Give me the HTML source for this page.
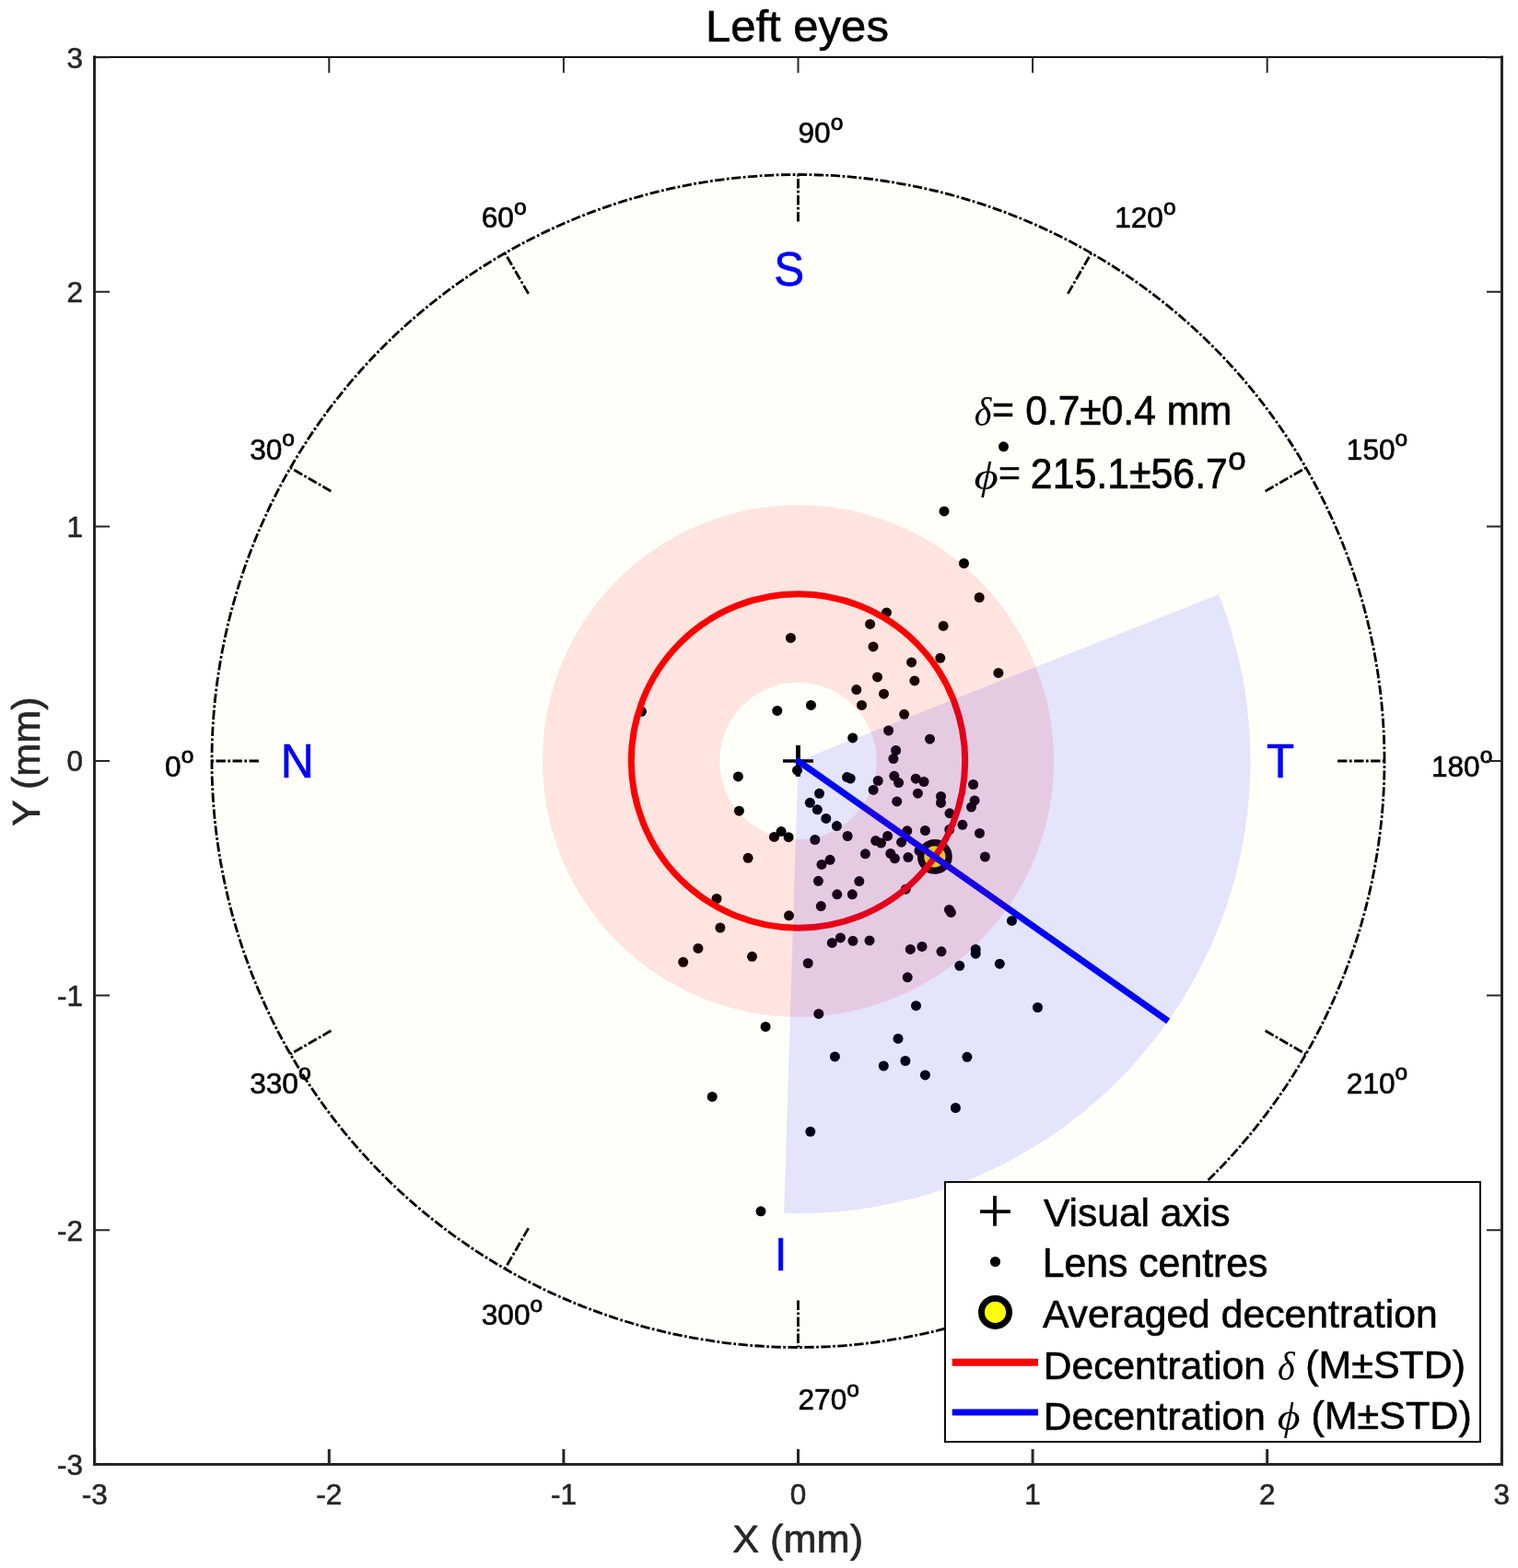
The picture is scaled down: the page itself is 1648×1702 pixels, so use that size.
<!DOCTYPE html>
<html><head><meta charset="utf-8"><title>Left eyes</title>
<style>html,body{margin:0;padding:0;background:#fff;}svg{display:block;}text{font-family:"Liberation Sans",Arial,sans-serif;}.g{font-family:"Liberation Serif","Times New Roman",serif;font-style:italic;}</style>
</head><body>
<svg width="1648" height="1702" viewBox="0 0 1648 1702">
<rect x="0" y="0" width="1648" height="1702" fill="#ffffff"/>
<circle cx="866.5" cy="826" r="636.5" fill="#fffffa"/>
<g fill="#000">
<circle cx="1089.5" cy="484.8" r="5.5"/>
<circle cx="1025" cy="554.9" r="5.5"/>
<circle cx="1046.5" cy="611.5" r="5.5"/>
<circle cx="1063.2" cy="648.5" r="5.5"/>
<circle cx="962.5" cy="664.9" r="5.5"/>
<circle cx="944.6" cy="677.4" r="5.5"/>
<circle cx="1024.1" cy="679.4" r="5.5"/>
<circle cx="858.4" cy="692.4" r="5.5"/>
<circle cx="948" cy="701.9" r="5.5"/>
<circle cx="1020.8" cy="714.3" r="5.5"/>
<circle cx="989.6" cy="718.9" r="5.5"/>
<circle cx="1083.9" cy="730.4" r="5.5"/>
<circle cx="952.5" cy="734.9" r="5.5"/>
<circle cx="992.9" cy="738.9" r="5.5"/>
<circle cx="929.8" cy="748.6" r="5.5"/>
<circle cx="959.5" cy="753.2" r="5.5"/>
<circle cx="880.4" cy="765.4" r="5.5"/>
<circle cx="935.5" cy="765.4" r="5.5"/>
<circle cx="843.8" cy="771.4" r="5.5"/>
<circle cx="696.5" cy="772.3" r="5.5"/>
<circle cx="981.6" cy="775.3" r="5.5"/>
<circle cx="964.6" cy="793" r="5.5"/>
<circle cx="925.7" cy="800.9" r="5.5"/>
<circle cx="1009.5" cy="802.2" r="5.5"/>
<circle cx="972.6" cy="814.5" r="5.5"/>
<circle cx="969.9" cy="823.6" r="5.5"/>
<circle cx="865.5" cy="836.2" r="5.5"/>
<circle cx="801.4" cy="842.9" r="5.5"/>
<circle cx="919.6" cy="843.6" r="5.5"/>
<circle cx="923.2" cy="845" r="5.5"/>
<circle cx="953.2" cy="847.5" r="5.5"/>
<circle cx="970.8" cy="842.3" r="5.5"/>
<circle cx="975.6" cy="849.6" r="5.5"/>
<circle cx="994.2" cy="845.2" r="5.5"/>
<circle cx="1003" cy="848.5" r="5.5"/>
<circle cx="1056.6" cy="851.5" r="5.5"/>
<circle cx="948.1" cy="857.4" r="5.5"/>
<circle cx="889.5" cy="861.3" r="5.5"/>
<circle cx="996.4" cy="861.2" r="5.5"/>
<circle cx="1021.5" cy="864.5" r="5.5"/>
<circle cx="1021.5" cy="871.4" r="5.5"/>
<circle cx="1058.1" cy="868.9" r="5.5"/>
<circle cx="1054.5" cy="876.1" r="5.5"/>
<circle cx="973.7" cy="869.9" r="5.5"/>
<circle cx="879.3" cy="871.3" r="5.5"/>
<circle cx="887.3" cy="878.8" r="5.5"/>
<circle cx="802.4" cy="880.2" r="5.5"/>
<circle cx="1031" cy="882.8" r="5.5"/>
<circle cx="896.8" cy="888.4" r="5.5"/>
<circle cx="1044.9" cy="895.3" r="5.5"/>
<circle cx="908.4" cy="896.6" r="5.5"/>
<circle cx="1004.4" cy="901.5" r="5.5"/>
<circle cx="984.8" cy="901.8" r="5.5"/>
<circle cx="1030.8" cy="900.5" r="5.5"/>
<circle cx="848.1" cy="902.6" r="5.5"/>
<circle cx="1063.5" cy="904.4" r="5.5"/>
<circle cx="920.1" cy="907.5" r="5.5"/>
<circle cx="963.6" cy="907.4" r="5.5"/>
<circle cx="840.5" cy="908.4" r="5.5"/>
<circle cx="856.1" cy="908.7" r="5.5"/>
<circle cx="884.8" cy="911.5" r="5.5"/>
<circle cx="950.7" cy="912.6" r="5.5"/>
<circle cx="956.5" cy="915.1" r="5.5"/>
<circle cx="978.6" cy="914.2" r="5.5"/>
<circle cx="939.4" cy="926.8" r="5.5"/>
<circle cx="966.8" cy="926.5" r="5.5"/>
<circle cx="971.4" cy="931.8" r="5.5"/>
<circle cx="985.9" cy="930.6" r="5.5"/>
<circle cx="1069.4" cy="930" r="5.5"/>
<circle cx="812.1" cy="931.3" r="5.5"/>
<circle cx="901.1" cy="933.3" r="5.5"/>
<circle cx="892" cy="938.4" r="5.5"/>
<circle cx="888.4" cy="956.3" r="5.5"/>
<circle cx="932.8" cy="956.6" r="5.5"/>
<circle cx="983.3" cy="965.2" r="5.5"/>
<circle cx="908.8" cy="970.8" r="5.5"/>
<circle cx="925.3" cy="970.8" r="5.5"/>
<circle cx="778" cy="975.5" r="5.5"/>
<circle cx="891.3" cy="983.6" r="5.5"/>
<circle cx="1030.5" cy="987.5" r="5.5"/>
<circle cx="1032.4" cy="990.4" r="5.5"/>
<circle cx="856.5" cy="993.8" r="5.5"/>
<circle cx="1098.5" cy="999.4" r="5.5"/>
<circle cx="781.9" cy="1007" r="5.5"/>
<circle cx="912.4" cy="1017.9" r="5.5"/>
<circle cx="903.3" cy="1023.4" r="5.5"/>
<circle cx="925.9" cy="1021.3" r="5.5"/>
<circle cx="944" cy="1020.9" r="5.5"/>
<circle cx="988.3" cy="1030.4" r="5.5"/>
<circle cx="1001" cy="1027.4" r="5.5"/>
<circle cx="1022" cy="1032.8" r="5.5"/>
<circle cx="1059.2" cy="1030.4" r="5.5"/>
<circle cx="1059.2" cy="1035.2" r="5.5"/>
<circle cx="757.9" cy="1029.4" r="5.5"/>
<circle cx="816.5" cy="1038.3" r="5.5"/>
<circle cx="741.7" cy="1044.3" r="5.5"/>
<circle cx="877.2" cy="1045.5" r="5.5"/>
<circle cx="1041.8" cy="1048.3" r="5.5"/>
<circle cx="1085.3" cy="1046.2" r="5.5"/>
<circle cx="985.2" cy="1060.8" r="5.5"/>
<circle cx="994.5" cy="1091.7" r="5.5"/>
<circle cx="1126.5" cy="1093.5" r="5.5"/>
<circle cx="888.8" cy="1100.4" r="5.5"/>
<circle cx="831.1" cy="1114.4" r="5.5"/>
<circle cx="975" cy="1127.4" r="5.5"/>
<circle cx="906.4" cy="1146.9" r="5.5"/>
<circle cx="1049.9" cy="1147.3" r="5.5"/>
<circle cx="982.9" cy="1151.5" r="5.5"/>
<circle cx="959.3" cy="1157" r="5.5"/>
<circle cx="998" cy="923.5" r="5.5"/>
<circle cx="1004.4" cy="1166.9" r="5.5"/>
<circle cx="773.2" cy="1190.4" r="5.5"/>
<circle cx="1037.4" cy="1202.5" r="5.5"/>
<circle cx="879.8" cy="1228.3" r="5.5"/>
<circle cx="826" cy="1314.8" r="5.5"/>
</g>
<circle cx="1014.85" cy="929.9" r="15.25" fill="#ffff00" stroke="#000" stroke-width="7.3"/>
<circle cx="866.5" cy="826" r="181.2" fill="none" stroke="#ff0000" stroke-width="7"/>
<path d="M850 826H883" stroke="#000" stroke-width="3.6" fill="none"/>
<path d="M866.5 809V843" stroke="#000" stroke-width="4.8" fill="none"/>
<line x1="864.45" y1="824.56" x2="1268.21" y2="1108.33" stroke="#0000ff" stroke-width="7"/>
<path fill="#ff0000" fill-opacity="0.105" fill-rule="evenodd" d="M588.9 826A277.6 277.6 0 1 0 1144.1 826A277.6 277.6 0 1 0 588.9 826ZM781.3 826A85.2 85.2 0 1 0 951.7 826A85.2 85.2 0 1 0 781.3 826Z"/>
<path fill="#0000ff" fill-opacity="0.105" d="M866.5 826L1323.02 645.25A491 491 0 0 1 851.08 1316.76Z"/>
<path d="M1503 826A636.5 636.5 0 0 0 230 826A636.5 636.5 0 0 0 1503 826" fill="none" stroke="#000" stroke-width="2.8" stroke-dasharray="10.4 2.4 2.8 2.4"/>
<line x1="280.92" y1="826" x2="230" y2="826" stroke="#000" stroke-width="2.8" stroke-dasharray="10.4 2.4 2.8 2.4"/>
<line x1="359.37" y1="533.21" x2="315.27" y2="507.75" stroke="#000" stroke-width="2.8" stroke-dasharray="10.4 2.4 2.8 2.4"/>
<line x1="573.71" y1="318.87" x2="548.25" y2="274.77" stroke="#000" stroke-width="2.8" stroke-dasharray="10.4 2.4 2.8 2.4"/>
<line x1="866.5" y1="240.42" x2="866.5" y2="189.5" stroke="#000" stroke-width="2.8" stroke-dasharray="10.4 2.4 2.8 2.4"/>
<line x1="1159.29" y1="318.87" x2="1184.75" y2="274.77" stroke="#000" stroke-width="2.8" stroke-dasharray="10.4 2.4 2.8 2.4"/>
<line x1="1373.63" y1="533.21" x2="1417.73" y2="507.75" stroke="#000" stroke-width="2.8" stroke-dasharray="10.4 2.4 2.8 2.4"/>
<line x1="1452.08" y1="826" x2="1503" y2="826" stroke="#000" stroke-width="2.8" stroke-dasharray="10.4 2.4 2.8 2.4"/>
<line x1="1373.63" y1="1118.79" x2="1417.73" y2="1144.25" stroke="#000" stroke-width="2.8" stroke-dasharray="10.4 2.4 2.8 2.4"/>
<line x1="1159.29" y1="1333.13" x2="1184.75" y2="1377.23" stroke="#000" stroke-width="2.8" stroke-dasharray="10.4 2.4 2.8 2.4"/>
<line x1="866.5" y1="1411.58" x2="866.5" y2="1462.5" stroke="#000" stroke-width="2.8" stroke-dasharray="10.4 2.4 2.8 2.4"/>
<line x1="573.71" y1="1333.13" x2="548.25" y2="1377.23" stroke="#000" stroke-width="2.8" stroke-dasharray="10.4 2.4 2.8 2.4"/>
<line x1="359.37" y1="1118.79" x2="315.27" y2="1144.25" stroke="#000" stroke-width="2.8" stroke-dasharray="10.4 2.4 2.8 2.4"/>
<text x="179.08" y="842.8" font-size="31.6" fill="#000" stroke="#000" stroke-width="0.6">0<tspan font-size="24.5" dy="-14.6" stroke-width="0.8">o</tspan></text>
<text x="271.18" y="499.09" font-size="31.6" fill="#000" stroke="#000" stroke-width="0.6">30<tspan font-size="24.5" dy="-14.6" stroke-width="0.8">o</tspan></text>
<text x="522.79" y="247.48" font-size="31.6" fill="#000" stroke="#000" stroke-width="0.6">60<tspan font-size="24.5" dy="-14.6" stroke-width="0.8">o</tspan></text>
<text x="866.5" y="155.38" font-size="31.6" fill="#000" stroke="#000" stroke-width="0.6">90<tspan font-size="24.5" dy="-14.6" stroke-width="0.8">o</tspan></text>
<text x="1210.21" y="247.48" font-size="31.6" fill="#000" stroke="#000" stroke-width="0.6">120<tspan font-size="24.5" dy="-14.6" stroke-width="0.8">o</tspan></text>
<text x="1461.82" y="499.09" font-size="31.6" fill="#000" stroke="#000" stroke-width="0.6">150<tspan font-size="24.5" dy="-14.6" stroke-width="0.8">o</tspan></text>
<text x="1553.92" y="842.8" font-size="31.6" fill="#000" stroke="#000" stroke-width="0.6">180<tspan font-size="24.5" dy="-14.6" stroke-width="0.8">o</tspan></text>
<text x="1461.82" y="1186.51" font-size="31.6" fill="#000" stroke="#000" stroke-width="0.6">210<tspan font-size="24.5" dy="-14.6" stroke-width="0.8">o</tspan></text>
<text x="866.5" y="1530.22" font-size="31.6" fill="#000" stroke="#000" stroke-width="0.6">270<tspan font-size="24.5" dy="-14.6" stroke-width="0.8">o</tspan></text>
<text x="522.79" y="1438.12" font-size="31.6" fill="#000" stroke="#000" stroke-width="0.6">300<tspan font-size="24.5" dy="-14.6" stroke-width="0.8">o</tspan></text>
<text x="271.18" y="1186.51" font-size="31.6" fill="#000" stroke="#000" stroke-width="0.6">330<tspan font-size="24.5" dy="-14.6" stroke-width="0.8">o</tspan></text>
<text transform="matrix(1.0420 0 0 1.0636 304.80 844.00)" font-size="48" fill="#0000ff" stroke="#0000ff" stroke-width="0.6">N</text>
<text transform="matrix(1.0264 0 0 1.0756 840.21 310.00)" font-size="48" fill="#0000ff" stroke="#0000ff" stroke-width="0.6">S</text>
<text transform="matrix(1.0287 0 0 1.0636 1374.97 844.00)" font-size="48" fill="#0000ff" stroke="#0000ff" stroke-width="0.6">T</text>
<text transform="matrix(1.0000 0 0 1.0545 841.00 1378.80)" font-size="48" fill="#0000ff" stroke="#0000ff" stroke-width="0.6">I</text>
<text transform="matrix(0.9573 0 0 1.0767 1057.84 462.20)" font-size="42" class="g" fill="#000" stroke="#000" stroke-width="0">&#948;</text>
<text transform="matrix(0.9781 0 0 0.9929 1077.04 458.85)" font-size="42" fill="#000" stroke="#000" stroke-width="0.6">=</text>
<text transform="matrix(1.0136 0 0 1.0621 1113.13 460.70)" font-size="42" fill="#000" stroke="#000" stroke-width="0.6">0.7&#177;0.4 mm</text>
<text transform="matrix(1.2098 0 0 1.0205 1057.59 530.52)" font-size="42" class="g" fill="#000" stroke="#000" stroke-width="0">&#981;</text>
<text transform="matrix(0.9781 0 0 0.9214 1084.04 527.45)" font-size="42" fill="#000" stroke="#000" stroke-width="0.6">=</text>
<text transform="matrix(1.0199 0 0 1.0793 1118.86 530.20)" font-size="42" fill="#000" stroke="#000" stroke-width="0.6">215.1&#177;56.7</text>
<text transform="matrix(1.0966 0 0 1.1176 1333.20 509.90)" font-size="32" fill="#000" stroke="#000" stroke-width="0.6">o</text>
<path d="M102.5 60.5V1591M1630.5 60.5V1591M101 1589.5H1632" stroke="#262626" stroke-width="3" fill="none"/>
<path d="M101 62H1632" stroke="#141414" stroke-width="2" fill="none"/>
<path d="M102.7 1588V1573M357.3 1588V1573M611.9 1588V1573M866.5 1588V1573M1121.1 1588V1573M1375.7 1588V1573M1630.3 1588V1573" stroke="#262626" stroke-width="3" fill="none"/>
<path d="M102.7 63V79M104 1589.8H119M1629 1589.8H1614M357.3 63V79M104 1335.2H119M1629 1335.2H1614M611.9 63V79M104 1080.6H119M1629 1080.6H1614M866.5 63V79M104 826H119M1629 826H1614M1121.1 63V79M104 571.4H119M1629 571.4H1614M1375.7 63V79M104 316.8H119M1629 316.8H1614M1630.3 63V79M104 62.2H119M1629 62.2H1614" stroke="#262626" stroke-width="2" fill="none"/>
<g font-size="31.5" fill="#262626" stroke="#262626" stroke-width="0.6">
<text x="102.7" y="1632.5" text-anchor="middle">-3</text>
<text x="90" y="1601.1" text-anchor="end">-3</text>
<text x="357.3" y="1632.5" text-anchor="middle">-2</text>
<text x="90" y="1346.5" text-anchor="end">-2</text>
<text x="611.9" y="1632.5" text-anchor="middle">-1</text>
<text x="90" y="1091.9" text-anchor="end">-1</text>
<text x="866.5" y="1632.5" text-anchor="middle">0</text>
<text x="90" y="837.3" text-anchor="end">0</text>
<text x="1121.1" y="1632.5" text-anchor="middle">1</text>
<text x="90" y="582.7" text-anchor="end">1</text>
<text x="1375.7" y="1632.5" text-anchor="middle">2</text>
<text x="90" y="328.1" text-anchor="end">2</text>
<text x="1630.3" y="1632.5" text-anchor="middle">3</text>
<text x="90" y="73.5" text-anchor="end">3</text>
</g>
<text transform="matrix(1.0315 0 0 0.9900 795.17 1684.79)" font-size="42" fill="#262626" stroke="#262626" stroke-width="0.6">X (mm)</text>
<text transform="rotate(-90) matrix(1.0275 0 0 1.0000 -897.03 43.00)" font-size="42" fill="#262626" stroke="#262626" stroke-width="0.6">Y (mm)</text>
<text transform="matrix(1.0214 0 0 1.0044 765.98 44.86)" font-size="48" fill="#000" stroke="#000" stroke-width="0.6">Left eyes</text>
<rect x="1026" y="1283" width="581" height="282" fill="#ffffff" stroke="#0c0c0c" stroke-width="2"/>
<path d="M1064.1 1315H1096.9M1080 1298V1330.7" stroke="#000" stroke-width="3.75" fill="none"/>
<circle cx="1080.5" cy="1369.5" r="5.55" fill="#000"/>
<circle cx="1080.5" cy="1424.4" r="15.05" fill="#ffff00" stroke="#000" stroke-width="6.9"/>
<line x1="1033.7" y1="1478.8" x2="1127" y2="1478.8" stroke="#ff0000" stroke-width="8"/>
<line x1="1033.7" y1="1533" x2="1127" y2="1533" stroke="#0000ff" stroke-width="7"/>
<text transform="matrix(1.0129 0 0 1.0000 1132.90 1331.00)" font-size="42" fill="#000" stroke="#000" stroke-width="0.6">Visual axis</text>
<text transform="matrix(1.0182 0 0 1.0690 1131.65 1386.00)" font-size="42" fill="#000" stroke="#000" stroke-width="0.6">Lens centres</text>
<text transform="matrix(1.0166 0 0 1.0166 1131.90 1441.32)" font-size="42" fill="#000" stroke="#000" stroke-width="0.6">Averaged decentration</text>
<text transform="matrix(1.0126 0 0 1.0161 1132.86 1496.50)" font-size="42" fill="#000" stroke="#000" stroke-width="0.6">Decentration</text>
<text transform="matrix(0.9573 0 0 1.0700 1386.94 1498.00)" font-size="42" class="g" fill="#000" stroke="#000" stroke-width="0">&#948;</text>
<text transform="matrix(1.0219 0 0 0.9925 1417.30 1495.97)" font-size="42" fill="#000" stroke="#000" stroke-width="0.6">(M&#177;STD)</text>
<text transform="matrix(1.0126 0 0 1.0097 1132.86 1551.50)" font-size="42" fill="#000" stroke="#000" stroke-width="0.6">Decentration</text>
<text transform="matrix(1.1448 0 0 1.0282 1386.76 1551.75)" font-size="42" class="g" fill="#000" stroke="#000" stroke-width="0">&#981;</text>
<text transform="matrix(1.0262 0 0 0.9925 1423.39 1550.97)" font-size="42" fill="#000" stroke="#000" stroke-width="0.6">(M&#177;STD)</text>
</svg>
</body></html>
